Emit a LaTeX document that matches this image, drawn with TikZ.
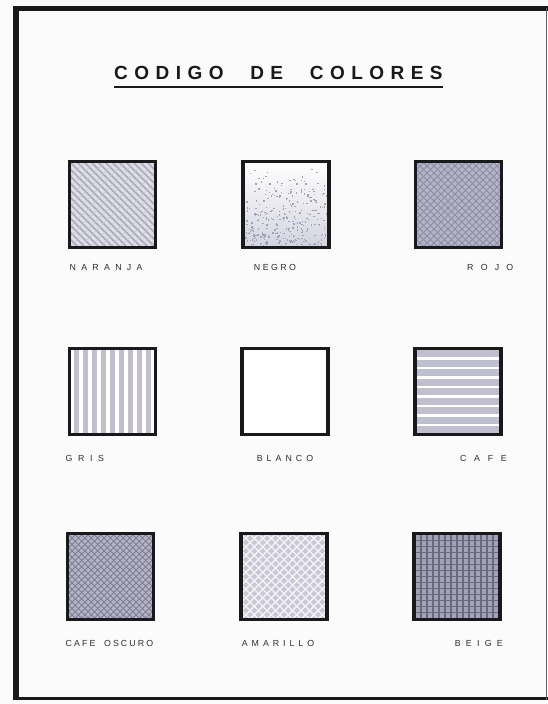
\documentclass[tikz,border=0pt]{standalone}
\usepackage{fontspec}
\setmainfont{Liberation Sans}
\usetikzlibrary{positioning}

\definecolor{ink}{RGB}{25,25,28}
\definecolor{paper}{RGB}{251,251,251}
\definecolor{tone}{RGB}{140,140,165}
\definecolor{tonelt}{RGB}{200,200,214}
\definecolor{tonemd}{RGB}{180,180,198}
\definecolor{tonedk}{RGB}{162,162,184}
\definecolor{labelgray}{RGB}{45,45,52}

% letter spaced text
\newcommand\spaced[2]{{\addfontfeature{LetterSpace=#1}#2}}
% step x, step y, half direction x, half direction y, width, colour
\newcommand\hatch[6]{%
  \foreach \k in {-18,...,18}{
    \pgfmathsetmacro\ax{\k*(#1)-(#3)}
    \pgfmathsetmacro\ay{\k*(#2)-(#4)}
    \pgfmathsetmacro\bx{\k*(#1)+(#3)}
    \pgfmathsetmacro\by{\k*(#2)+(#4)}
    \draw[#6,line width=#5pt]
      ([shift={(\ax pt,\ay pt)}]path picture bounding box.center) --
      ([shift={(\bx pt,\by pt)}]path picture bounding box.center);}}

\tikzset{
  swatch/.style={draw=ink,line width=3.5pt,minimum width=86pt,minimum height=86pt,inner sep=0pt,outer sep=0pt},
  lbl/.style={font=\fontsize{8.8}{8.8}\selectfont,text=labelgray,inner sep=0pt},
  naranjafill/.style={fill=tonelt!60!white,path picture={\hatch{7}{0}{-70}{70}{1.5}{tone!75}\hatch{10}{0}{70}{70}{0.5}{tone!50}}},
  negrofill/.style={top color=white,bottom color=tonelt!80!white,path picture={%
    \pgfmathsetseed{7}
    \foreach \i in {1,...,300}{
      \pgfmathsetmacro\u{rand*42}
      \pgfmathsetmacro\v{42-84*sqrt(rnd)}
      \fill[tone!80] ([shift={(\u pt,\v pt)}]path picture bounding box.center) rectangle ++(1.4pt,1.4pt);}}},
  rojofill/.style={fill=tonemd,path picture={\hatch{7}{0}{70}{70}{1}{tone}\hatch{7}{0}{-70}{70}{1}{tone}}},
  grisfill/.style={fill=white,path picture={\hatch{9}{0}{0}{70}{5.5}{tonelt!85!tone}}},
  cafefill/.style={fill=white,path picture={\hatch{0}{9.5}{70}{0}{7}{tonelt!85!tone}}},
  oscurofill/.style={fill=tonemd,path picture={\hatch{6.4}{0}{70}{70}{0.9}{tone!90!black}\hatch{6.4}{0}{-70}{70}{0.9}{tone!90!black}}},
  amarillofill/.style={fill=tonelt,path picture={\hatch{8.5}{0}{70}{70}{1.4}{white!80!tonelt}\hatch{8.5}{0}{-70}{70}{1.4}{white!80!tonelt}}},
  beigefill/.style={fill=tonedk,path picture={\hatch{6}{0}{0}{70}{1.5}{tone!75!black}\hatch{0}{6}{70}{0}{1.5}{tone!75!black}}},
}

\begin{document}
\begin{tikzpicture}[x=1pt,y=-1pt]
  \fill[paper] (0,0) rectangle (548,704);
  \useasboundingbox (0,0) rectangle (548,704);
  % frame
  \draw[ink,line width=6pt] (16,5.5) -- (16,700);
  \draw[ink,line width=5pt] (13,8.5) -- (548,8.5);
  \draw[ink,line width=3pt] (13,698.5) -- (548,698.5);
  \draw[ink!70,line width=1.5pt] (546.5,8) -- (546.5,700);

  % title
  \node[font=\bfseries\fontsize{19}{19}\selectfont,text=ink,anchor=base west,inner sep=0pt] (title) at (114,79)
    {\spaced{34}{CODIGO\hspace{15pt} DE\hspace{15pt} COLORES}};
  \draw[ink,line width=2.5pt] ([yshift=-8pt]title.base west) -- ([yshift=-8pt]title.base east);

  % swatches
  \node[swatch,naranjafill] (naranja) at (112.5,204.5) {};
  \node[swatch,negrofill] (negro) at (286,204.5) {};
  \node[swatch,rojofill] (rojo) at (458.5,204.5) {};
  \node[swatch,grisfill] (gris) at (112.5,391.5) {};
  \node[swatch,fill=white] (blanco) at (285,391.5) {};
  \node[swatch,cafefill] (cafe) at (458,391.5) {};
  \node[swatch,oscurofill] (oscuro) at (110.5,576.5) {};
  \node[swatch,amarillofill] (amarillo) at (284,576.5) {};
  \node[swatch,beigefill] (beige) at (457,576.5) {};

  % labels
  \node[lbl,below=23pt of naranja.south west,anchor=base west] (naranjaL) {\spaced{60}{NARANJA}};
  \node[lbl,below=23pt of negro.south,anchor=base,xshift=-11pt] (negroL) {\spaced{28}{NEGRO}};
  \node[lbl,below=23pt of rojo.south east,anchor=base east,xshift=12pt] (rojoL) {\spaced{82}{ROJO}};
  \node[lbl,below=27pt of gris.south west,anchor=base west,xshift=-4pt] (grisL) {\spaced{64}{GRIS}};
  \node[lbl,below=27pt of blanco.south,anchor=base] (blancoL) {\spaced{46}{BLANCO}};
  \node[lbl,below=27pt of cafe.south east,anchor=base east,xshift=6pt] (cafeL) {\spaced{88}{CAFE}};
  \node[lbl,below=27pt of oscuro.south west,anchor=base west,xshift=-2pt] (oscuroL) {\spaced{24}{CAFE\hspace{4pt} OSCURO}};
  \node[lbl,below=27pt of amarillo.south,anchor=base,xshift=-6pt] (amarilloL) {\spaced{45}{AMARILLO}};
  \node[lbl,below=27pt of beige.south east,anchor=base east,xshift=3pt] (beigeL) {\spaced{60}{BEIGE}};
\end{tikzpicture}
\end{document}
